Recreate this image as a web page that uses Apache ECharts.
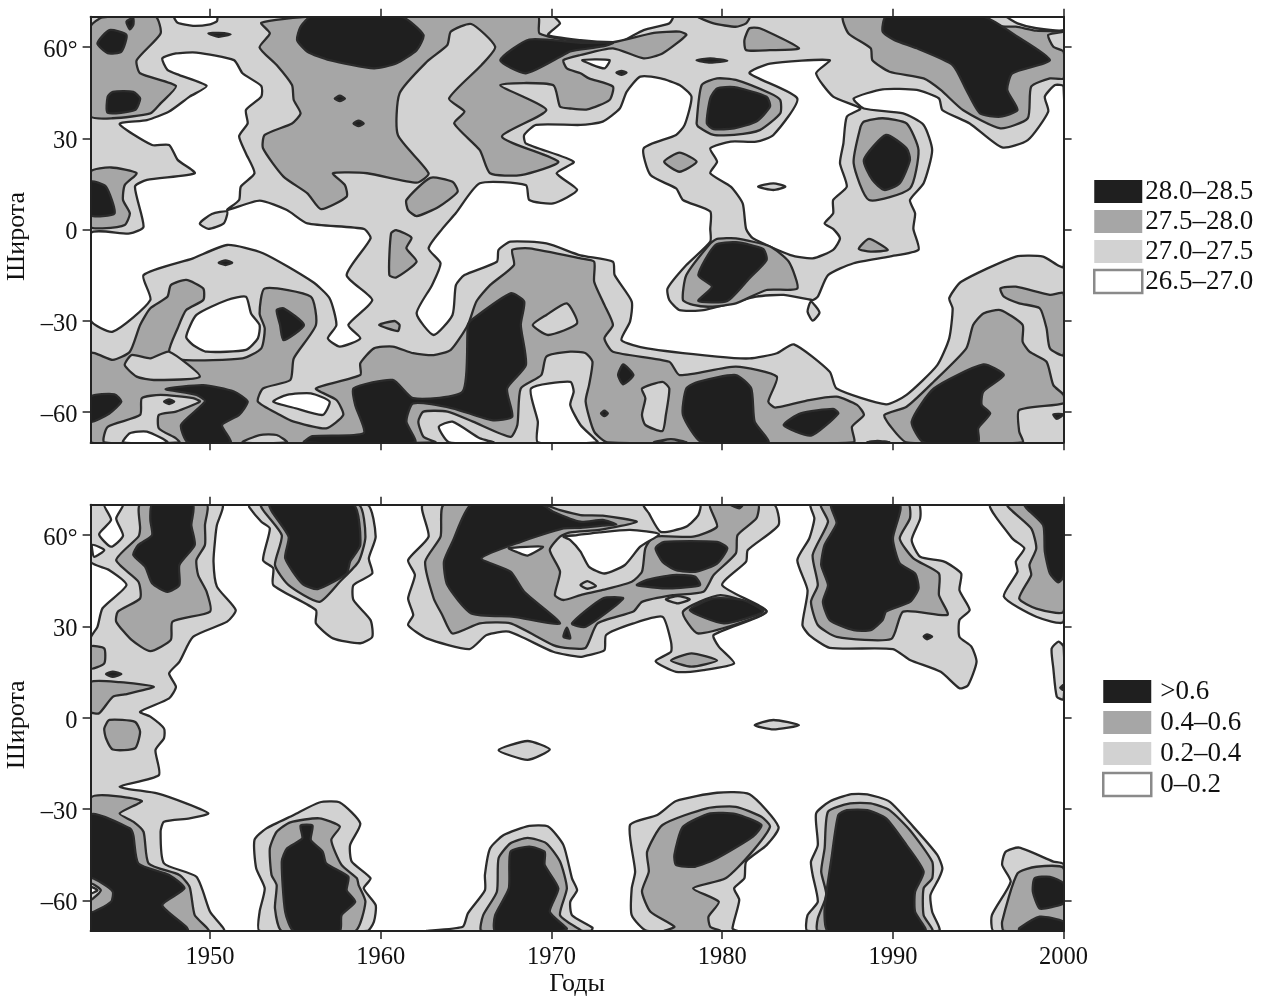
<!DOCTYPE html>
<html>
<head>
<meta charset="utf-8">
<script src="https://cdn.jsdelivr.net/npm/echarts@6/dist/echarts.min.js"></script>
<style>html,body{margin:0;padding:0;background:#fff}#graph{width:1264px;height:996px}</style>
</head>
<body>
<div id="graph"></div>
<script>
// contour rings, flat lists of year,latitude
var yearTicks = [1950, 1960, 1970, 1980, 1990, 2000];
var latTicks = [-60, -30, 0, 30, 60];
var latLabels = {'-60': '–60', '-30': '–30', '0': '0', '30': '30', '60': '60°'};
var tempLevels = ['28.0–28.5', '27.5–28.0', '27.0–27.5', '26.5–27.0'];
var sstLevels = ['>0.6', '0.4–0.6', '0.2–0.4', '0–0.2'];

// upper panel, painted in this order over a light background
var tempWhite = [
  [1947.9,70, 1948.1,68, 1949,67, 1950,67.5, 1950.4,68.5, 1950.4,70],
  [1947.2,56.3, 1948,57.9, 1949.2,58.2, 1951.4,55.7, 1951.9,51.4, 1953,47.2, 1953,43.7, 1952.1,39.3, 1952.2,34.9, 1951.7,30.7, 1952.1,25, 1952.6,18.5, 1951.8,14.1, 1951.7,9.7, 1951,6.4, 1952.9,9.5, 1954.5,6.4, 1955.7,2, 1959,0.2, 1959.4,-2.9, 1958,-15, 1959.5,-23.2, 1958.1,-31.4, 1958.8,-35.8, 1957.6,-38.5, 1956.9,-35.8, 1957.4,-31.4, 1957,-22.6, 1956,-17.2, 1953.1,-7.8, 1951,-5.1, 1949,-9.5, 1946.1,-15, 1946.5,-23.2, 1944.3,-33.6, 1943,-29.8, 1943,-1.3, 1945.3,-1.3, 1946.1,0.9, 1945.6,14.1, 1946.3,16.3, 1949.1,18.5, 1948.1,22.9, 1947.6,27.8, 1946.6,27.8, 1944.7,34.7, 1946.3,36, 1947.6,38.8, 1948.8,43.7, 1949.8,47.2, 1948.2,50.8, 1947.5,52.5],
  [1963.6,0.2, 1964.4,5.4, 1965.8,15.2, 1968.5,14.6, 1968.7,9.7, 1970.1,8.6, 1971.5,13, 1970.3,18.5, 1971.3,22.3, 1968.5,28.3, 1968.4,31.1, 1969.1,34.4, 1971.7,34.4, 1973,35.5, 1974,39.8, 1974.4,45.3, 1975.2,50.3, 1976.4,49.7, 1977.5,47.5, 1978.2,43.7, 1977.8,34.4, 1977.3,31.1, 1975.4,26.7, 1975.8,17.9, 1977.3,13.5, 1977.7,9.7, 1979.3,5.9, 1979.3,0.2, 1979.3,-4, 1977.9,-11.7, 1976.8,-19.4, 1976.9,-23.2, 1977.5,-26.5, 1978.9,-26.5, 1982,-22.1, 1983.6,-21.5, 1985.3,-23.2, 1985.6,-22.1, 1986.2,-15, 1987.7,-11.1, 1989.8,-8.9, 1991.5,-6.7, 1991.2,0.2, 1991.3,5.3, 1991,9.7, 1991.8,15.2, 1992.3,26.1, 1991.8,34.4, 1990.6,38.2, 1988.3,39.8, 1987.7,43.1, 1989.4,46.1, 1991.4,45.9, 1992.7,43.1, 1992.9,39.3, 1994.5,34.9, 1996.4,27, 1997.9,29.4, 1999.1,38.8, 1998.9,43.7, 1999.5,47.5, 2000,47, 2000,-12.2, 1998.8,-8.9, 1997.2,-8.9, 1994,-17.2, 1993.3,-22.6, 1993.5,-26, 1993.3,-35.8, 1992.6,-44.6, 1990.8,-54.4, 1989.6,-57.5, 1986.7,-52.3, 1986.3,-46.8, 1984.2,-37.8, 1983.2,-40.7, 1981.6,-42.4, 1979.7,-41.8, 1975.6,-39.1, 1974.1,-36.4, 1974.6,-30.3, 1974.7,-23.7, 1973.7,-15, 1973.6,-10.6, 1971.7,-8.5, 1969.7,-4.6, 1967.6,-4, 1966.9,-6.7, 1966.8,-10.6, 1964.9,-15, 1964.4,-18.3, 1964.2,-28.1, 1963.1,-34.7, 1962.1,-27.6, 1963,-18.3, 1963.5,-11.1, 1962.8,-6.2],
  [1981.4,0.2, 1981.2,8.6, 1980.5,14.1, 1979.3,18.5, 1979.7,22.3, 1979.3,26.7, 1980.5,28.9, 1982,28.9, 1983,31.1, 1984.4,43.1, 1981.6,51.4, 1982.8,54.6, 1986.3,55.7, 1985.5,51.4, 1986.5,43.7, 1988.1,39.8, 1987.3,37.1, 1987.1,28.3, 1986.9,21.8, 1987.3,14.1, 1986.5,9.7, 1986.5,5.3, 1986,2, 1986.5,0.2, 1986.9,-2.9, 1986.5,-6.7, 1985.3,-9.5, 1984,-8.4, 1981.8,-2.9],
  [1970.2,70, 1970.5,67.8, 1969.8,64, 1971.7,62.3, 1973.6,61.6, 1974.2,62.1, 1975.4,65.6, 1976.9,67.8, 1977.1,70],
  [1971.8,55.7, 1973.4,55.7, 1973.1,53],
  [1996.7,70, 1997.3,67.8, 1998.4,66.2, 2000,65.6, 2000,70]
];
var tempLightIsles = [
  [1949.4,2, 1949.9,0.2, 1950.8,2, 1951,5.9, 1950.1,5.1],
  [1985,-27, 1985.2,-23.7, 1985.7,-27.3, 1985.3,-30],
  [1982.1,14.1, 1983,15.2, 1983.7,14.1, 1983,13]
];
var tempMid = [
  [1943.7,69.8, 1946.8,70, 1947.1,64.5, 1945.7,55.7, 1945.9,51.4, 1948,47.2, 1947.1,41.5, 1946.5,38.2, 1944.3,36.6, 1943,37.3, 1943,66.7],
  [1943,19, 1944.2,20.4, 1945.7,18.5, 1945,14.6, 1944.9,9.7, 1945.3,5.3, 1945,1.5, 1943.7,0.4, 1943,0.9],
  [1953,68, 1955.9,70, 1969.2,70, 1969.3,64.5, 1971.7,61.8, 1973.6,61.6, 1976,64.7, 1977.5,65.1, 1977.9,64, 1976.5,57.9, 1975.4,56.3, 1973.6,59.6, 1971.7,57.4, 1970.7,55.7, 1970.9,53, 1971.7,51.4, 1972.2,49.7, 1973.6,47, 1973.4,42.6, 1972.1,39.5, 1971.1,39.8, 1970.5,40.4, 1970.1,47.5, 1967,47.5, 1969.7,39.3, 1967.1,30.5, 1970.4,22.3, 1968.2,17.9, 1966.4,18.5, 1965.8,26.1, 1964.3,34.9, 1964.9,38.8, 1964,43.1, 1965.9,54.1, 1966.7,60.1, 1965.3,67.6, 1964.1,65.1, 1963.9,60.7, 1962.7,55.2, 1961.1,44.8, 1961,31.1, 1962.8,18.5, 1962.1,15.4, 1959.2,18.5, 1957.2,18.5, 1957.9,14.6, 1958,10.8, 1956.5,6.7, 1955.7,11.9, 1954.3,17.4, 1953.1,26.7, 1953.2,31.1, 1954.8,34.9, 1955.3,38.2, 1954.9,42.6, 1954.8,47.5, 1953.9,54.1, 1952.9,59.9, 1953.5,64.5],
  [1961.5,9.7, 1962.9,17, 1964.2,15.7, 1964.5,12.4, 1963.4,7.5, 1962.1,4.4, 1961.6,6.4],
  [1978.6,70, 1979.5,67.8, 1980.8,66.7, 1981.4,67.8, 1981.6,70],
  [1981.3,62.3, 1981.6,66.2, 1982.2,66.2, 1984.5,59.6, 1982.8,59, 1981.4,59],
  [1978.5,34.9, 1978.8,47.5, 1979.7,49.7, 1980.8,49.2, 1982.8,44.8, 1983.4,42.6, 1983.4,38.2, 1982.2,32.7, 1980.7,31.1, 1979.5,31.1, 1978.6,33.8],
  [1976.6,22.3, 1977.5,25.3, 1978.5,22.3, 1977.5,19],
  [1988.1,33.7, 1988.3,35.5, 1989.4,36.6, 1990.8,34.9, 1991.5,26.1, 1991,13.5, 1988.6,9.7, 1987.7,21.8],
  [1987.1,70, 1987.4,64.5, 1988.7,59.6, 1988.8,55.7, 1989.8,51.9, 1991.8,49.7, 1992.8,45.9, 1994.1,39.3, 1996.3,33.3, 1997.9,36.6, 1998.1,47, 1999.2,49.7, 2000,49.7, 2000,58.5, 1999.4,60.1, 1999.1,64, 2000,65.1, 1998.4,65.4, 1997.2,66.7, 1996.3,66.9, 1995.3,70],
  [1943,-40.7, 1944.3,-42.9, 1945.3,-40.2, 1945.9,-31.4, 1946.5,-25.9, 1947.5,-22.1, 1947.7,-18.3, 1948.6,-16.6, 1949.6,-19.4, 1949.6,-23.2, 1948.6,-26.5, 1948.1,-32.5, 1947.6,-40.2, 1948.4,-42.9, 1951.9,-42.4, 1953,-39.1, 1953.2,-32.5, 1952.9,-27.6, 1953.2,-19.4, 1955.9,-22.1, 1956.2,-31.4, 1954.9,-42.4, 1954.7,-49.5, 1953.1,-52.3, 1952.8,-56.6, 1954.1,-61, 1954.9,-63.2, 1956.8,-65.4, 1957.8,-61, 1957.4,-56.1, 1956.2,-52.3, 1958.8,-47.9, 1958.8,-44, 1959.6,-39.1, 1960.7,-38.5, 1961.9,-40.7, 1963.1,-41.3, 1964.1,-39.6, 1965.1,-31.4, 1965.6,-23.7, 1966.4,-18.3, 1967.8,-11.7, 1967.7,-6.7, 1968.7,-6.2, 1971.7,-9.5, 1972.5,-10.6, 1972.5,-17.2, 1973.1,-24.8, 1973.6,-31.4, 1973.1,-35.8, 1973.6,-40.2, 1976.9,-43.5, 1977.5,-47.9, 1980.8,-45.1, 1983.2,-48.4, 1982.7,-56.6, 1983.1,-58.6, 1985.1,-56.1, 1986.7,-55, 1987.9,-57.7, 1988.3,-61, 1987.6,-64.9, 1987.7,-70, 1973.3,-70, 1972.5,-66.5, 1972,-56.6, 1972.2,-51.2, 1972.4,-43.5, 1972,-40.7, 1971.1,-40.2, 1969.7,-41.8, 1969.4,-47.9, 1968.2,-52.3, 1968,-64.3, 1967.6,-68.2, 1965.4,-63.2, 1963.9,-59.9, 1962.5,-59.9, 1962.2,-63.2, 1962.5,-68.2, 1963.2,-70, 1943,-70],
  [1960.6,-1.3, 1960.9,-0.2, 1961.8,-2.7, 1961.5,-6.2, 1962.1,-10.6, 1960.9,-15.8, 1960.5,-15],
  [1959.9,-31.4, 1960.8,-30.1, 1961.1,-31.4, 1961,-33.4],
  [1977.7,-23.2, 1977.9,-15, 1979.3,-4.6, 1979.7,-3.1, 1980.8,-2.9, 1982.8,-5.6, 1983.9,-10.6, 1984.4,-19.4, 1982.6,-19.9, 1980.8,-24.3, 1979.3,-25.4, 1978.3,-24.8],
  [1988,-6.4, 1988.6,-3.1, 1989.7,-6.7, 1988.7,-7.3],
  [1989.5,-61, 1990.8,-58.3, 1992.4,-50, 1994.3,-39.1, 1994.7,-31.4, 1995.3,-27.6, 1996.3,-26.5, 1997.6,-31.4, 1997.6,-36.9, 1998,-40.2, 1999,-43.5, 1999.4,-51.2, 2000,-54.4, 2000,-57.2, 1997.4,-59.4, 1997.4,-66.5, 1997.6,-70, 1990.8,-70, 1989.8,-64.3],
  [1996.3,-19.4, 1997.2,-18.8, 1999.2,-21.5, 2000,-21, 2000,-41.3, 1999.2,-39.1, 1999,-32.5, 1998.6,-25.9, 1997.4,-24.3, 1996.5,-22.1],
  [1988.5,-70, 1989.1,-69.5, 1989.8,-70]
];
var tempLightTop = [
  [1945,-44.6, 1945.4,-41.3, 1946.5,-42.4, 1947.6,-40.2, 1949.4,-48.4, 1946.7,-49.5, 1945.7,-48.4],
  [1943.8,-70, 1944,-64.9, 1945.9,-61, 1946,-55.5, 1947.1,-54.4, 1949,-55.5, 1949.4,-56.6, 1948,-59.9, 1947,-61, 1947,-65.4, 1948,-68.7, 1948.2,-70],
  [1951.9,-70, 1952.9,-67.6, 1953.9,-67.6, 1954.5,-70],
  [1968.9,-31.4, 1969.7,-28.1, 1970.9,-24.3, 1971.5,-30.9, 1969.8,-34.7],
  [1975.3,-52.3, 1976.5,-50.1, 1976.9,-52.3, 1976.7,-61, 1976.5,-66.3, 1975.5,-64.3, 1975.3,-61, 1975.5,-55.5],
  [1976,-70, 1977,-69, 1977.9,-70]
];
var tempWhiteTop = [
  [1944.9,-70, 1945.3,-67, 1946.3,-66.5, 1947.5,-70],
  [1953.7,-56.6, 1954.5,-54.4, 1955.9,-53.9, 1957,-56.6, 1956.6,-61, 1955,-58.8],
  [1964,-70, 1963.4,-64.9, 1964.2,-63.2, 1965.8,-68.7, 1966.6,-70],
  [1969.2,-70, 1969.2,-63.2, 1968.8,-52.3, 1971.1,-50.1, 1971.3,-53.3, 1971.1,-57.7, 1971.7,-64.3, 1972.5,-68.7, 1972.7,-70],
  [1948.6,-35.3, 1949.2,-28.1, 1951,-23.2, 1952.1,-22.1, 1952.4,-27.6, 1952.9,-31.4, 1952.8,-35.8, 1952.1,-39.6, 1949.8,-40.2, 1949,-38]
];
var tempDark = [
  [1943.4,61.2, 1944.1,65.6, 1945.1,64, 1944.8,58.5, 1944,58],
  [1944,43.7, 1944.3,45.3, 1945.5,45.3, 1945.9,43.1, 1945.6,39.3, 1944,38.4],
  [1945.1,68.4, 1945.5,69.5, 1945.5,67.3, 1945.3,65.8],
  [1949.9,64.5, 1950.5,64.7, 1951.2,64.2, 1950.5,63.4],
  [1943,15.7, 1943.9,14.1, 1944.4,5.3, 1943,4.8],
  [1955.9,70, 1961.2,70, 1962.5,64, 1962.1,59, 1960.9,54.6, 1959.6,53, 1957,55.7, 1955.7,58.5, 1955.1,62.3, 1955.3,66.7],
  [1957.3,43.1, 1957.6,44, 1957.9,43.1, 1957.6,42.2],
  [1958.4,34.9, 1958.7,35.8, 1959,34.9, 1958.7,34],
  [1967,55.7, 1968.7,62.5, 1971.7,61.4, 1973.6,61.4, 1973,60.2, 1971.1,58.6, 1970.7,57.4, 1968.5,51.4],
  [1978.5,55.7, 1979.3,56.3, 1980.3,55.5, 1979.3,54.9],
  [1973.8,51.6, 1974.1,52.2, 1974.4,51.6, 1974.1,50.9],
  [1979.1,34.9, 1979.3,43.1, 1979.7,46.4, 1980.7,46.8, 1982.6,43.7, 1982.8,40.4, 1982,35.5, 1980.7,33.3, 1979.5,33],
  [1988.3,22.9, 1989.6,31.1, 1990.8,26.7, 1991,22.9, 1990.4,15.2, 1989.5,13, 1988.8,16.3],
  [1989.6,70, 1995.3,70, 1997.3,63.4, 1999.2,55.7, 1997,51.4, 1996.7,45.9, 1997.3,39.3, 1996.3,37.1, 1995.1,38.2, 1994.3,45.9, 1993.5,54.1, 1991.4,59.6, 1990.1,62.3, 1989.4,65.1],
  [1958.4,-52.3, 1960.7,-49.5, 1961.9,-55.5, 1964.8,-53.3, 1965.1,-31.4, 1965.3,-29.8, 1967.6,-21, 1968.4,-23.7, 1968.2,-31.4, 1968.5,-44.6, 1967.4,-52.3, 1967.7,-61.6, 1966.5,-62.7, 1964.2,-58.8, 1961.9,-57.2, 1961.5,-63.2, 1962,-70, 1955.5,-70, 1956,-68, 1959,-67, 1958.5,-57.7],
  [1947.4,-52.5, 1949.6,-51.2, 1951.4,-53.3, 1952.2,-56.6, 1951.7,-61, 1950.7,-64.3, 1951.2,-70, 1948.7,-70, 1948.3,-64.3, 1949.7,-56.6, 1949.2,-54.4],
  [1943,-55, 1944.4,-54.2, 1944.8,-56.6, 1944.1,-60.5, 1943,-63.2],
  [1953.9,-26.5, 1954.3,-25.9, 1955.5,-31.4, 1954.3,-36.4, 1954.1,-31.4],
  [1947.3,-56.6, 1947.6,-55.9, 1947.9,-56.6, 1947.6,-57.4],
  [1950.5,-10.9, 1950.9,-10.2, 1951.3,-10.9, 1950.9,-11.7],
  [1973.9,-47.9, 1974.2,-44.4, 1974.8,-47.9, 1974.2,-50.9],
  [1972.9,-60.5, 1973.1,-59.6, 1973.3,-60.5, 1973.1,-61.4],
  [1977.9,-52.3, 1978.6,-50.1, 1980.8,-47.9, 1981.7,-52.3, 1981.9,-63.2, 1982.7,-70, 1978.8,-70, 1977.7,-61],
  [1983.6,-64.3, 1984.6,-60.5, 1986.5,-59, 1986.8,-60.5, 1985.2,-67.8],
  [1991.1,-63.2, 1992.4,-52.3, 1995.3,-44.4, 1996.5,-47.9, 1995.3,-53.3, 1995.2,-57.7, 1995.7,-60.5, 1995,-65.4, 1995,-70, 1991.8,-70],
  [1999.4,-60.8, 2000,-60.8, 1999.6,-62.3],
  [1978.6,-15, 1979.6,-5.1, 1980.8,-4.2, 1982.4,-6.4, 1982.6,-10, 1981.6,-16, 1980.3,-23.5, 1978.6,-23.5, 1979.4,-18.8]
];

// lower panel, painted in this order over a white background
var sstLight = [
  [1943,70, 1950.7,70, 1950.4,63.3, 1950.3,58.9, 1950.2,51.3, 1950.4,43.1, 1951.5,35.4, 1951,31.6, 1949,26.6, 1948.2,18.4, 1947.6,14.6, 1948,10.2, 1947.6,6.4, 1945.9,2, 1946.5,0.4, 1947.3,-3.5, 1947.3,-6.7, 1946.8,-10.6, 1947,-18.8, 1944.7,-22.6, 1946.9,-24.8, 1948.6,-28.1, 1949.9,-31.4, 1948.8,-33, 1947.3,-34.1, 1947.1,-37.4, 1947.3,-47.8, 1949.2,-52.2, 1950,-63.7, 1950.8,-70, 1943,-70, 1943,26.1, 1943.4,29.9, 1943.7,36, 1945.1,43.6, 1944.1,48.5, 1943,51.3],
  [1952.3,70, 1952.3,69.1, 1953,64.4, 1953.5,62.2, 1953.1,51.8, 1953.7,49.1, 1953.7,43.6, 1956.2,35.4, 1956.2,31, 1957.2,26.1, 1958.8,24.5, 1959.5,26.6, 1959.4,32.1, 1958.4,38.7, 1958.4,43.6, 1959.5,47.4, 1959.3,52.4, 1959.7,59.5, 1959.2,70],
  [1962.5,70, 1962.8,59.5, 1961.6,51.8, 1962,46.9, 1961.6,39.2, 1961.9,33.8, 1961.6,30.5, 1962.7,26.1, 1965.2,22.6, 1966.2,27.2, 1967.5,28.3, 1970.1,21.7, 1971.7,20, 1972.1,20.5, 1973.1,22.2, 1973.2,27.2, 1974.8,31, 1976.5,33.2, 1977,25, 1977,21.7, 1976.1,18.6, 1977.3,15.1, 1978.9,15.7, 1980.7,17.9, 1979.8,23.4, 1979.5,27.2, 1982.6,34.9, 1980,43.6, 1981.4,51.3, 1981.5,55.1, 1983.3,63.3, 1983,70],
  [1985.2,70, 1985.4,65.5, 1985.1,58.9, 1984.4,51.8, 1985,41.9, 1984.7,30.5, 1985.1,27.2, 1986.3,23, 1990,22.6, 1991,19, 1992.8,15.1, 1993.9,9.7, 1994.4,10.7, 1994.9,18.4, 1994.6,23.4, 1993.9,26.6, 1993.9,32.1, 1994.5,35.4, 1993.9,41.9, 1994,47.4, 1993,51.3, 1991.6,52.9, 1991.1,58.4, 1991.6,65.5, 1991.5,70],
  [1995.7,70, 1997,58.9, 1997.7,55.7, 1997.2,51.3, 1997.3,48, 1996.5,39.8, 1998.4,33.2, 2000,31.6, 2000,70],
  [1999.3,22.8, 1999.7,25, 2000,23.4, 2000,6.1, 1999.6,7, 1999.4,16.2],
  [1981.9,-2.4, 1983,-0.7, 1984.5,-2.4, 1983,-3.8],
  [1966.9,-10.6, 1968.6,-7.6, 1969.9,-10.4, 1968.6,-13.8],
  [1952.9,-70, 1952.9,-63.7, 1953.2,-56, 1952.7,-49.4, 1952.6,-40.1, 1953.3,-36.3, 1954.9,-31.9, 1956.4,-27.8, 1957.6,-27.8, 1958.8,-34.7, 1958.2,-41.8, 1958.3,-47.2, 1959.4,-52.7, 1959,-56, 1959.7,-61.5, 1959.6,-66.9, 1959.2,-70],
  [1962.7,-70, 1964.8,-68.6, 1965.1,-64.2, 1966.1,-56.6, 1966.1,-51.6, 1966.4,-42.9, 1967.2,-38.5, 1968.7,-35.5, 1969.8,-35.7, 1970.7,-41.8, 1971.2,-52.7, 1971.5,-56.6, 1971.1,-60.4, 1971.2,-64.8, 1972.4,-68.9, 1972.3,-70],
  [1975.6,-70, 1974.7,-64.8, 1974.7,-56, 1974.9,-50.5, 1974.6,-35.2, 1976.2,-31.9, 1977.3,-27.3, 1979.7,-24.6, 1981.6,-25.1, 1983.3,-35.8, 1982.6,-41.8, 1981.4,-47.2, 1981.3,-52.7, 1980.7,-56, 1981,-59.8, 1980.6,-69.2, 1980.9,-70],
  [1985,-70, 1985,-64.8, 1985.6,-60.4, 1985.3,-51.6, 1985.2,-47.2, 1985.6,-41.8, 1985.5,-31.4, 1986.3,-27.5, 1987.5,-25.1, 1988.5,-25.1, 1989.8,-27.5, 1991.2,-35.8, 1992.6,-45, 1992.9,-49.4, 1992.7,-52.7, 1992.2,-58.2, 1992.3,-63.7, 1992.7,-70],
  [1995.9,-70, 1995.8,-64.8, 1996.9,-53.8, 1996.4,-48.3, 1996.6,-44, 1997.4,-42.6, 1999.4,-47.2, 2000,-48.1, 2000,-70]
];
var sstWhite = [
  [1943.8,70, 1944.2,65, 1943.5,60.3, 1944.2,56.2, 1944.9,59.8, 1944.5,65.5, 1944.9,70],
  [1943.1,56.8, 1943.8,55.1, 1943.2,52.9]
];
var sstMid = [
  [1945.9,70, 1949.8,70, 1949.7,63.3, 1949.7,56.8, 1949.2,51.8, 1949.3,46.9, 1949.8,41.4, 1950,34.9, 1947.8,31.6, 1947.7,25.6, 1946.5,21.9, 1945.4,25.6, 1944.5,31.6, 1944.6,34.9, 1945.9,39.2, 1945.8,44.7, 1944.5,51.8, 1945.8,59.5, 1945.9,62.2],
  [1943,23.4, 1943.8,22.8, 1943.8,17.9, 1943,16.2],
  [1943,11.7, 1944.7,11.7, 1946.7,10.2, 1945,7.7, 1944.3,6.9, 1943.5,1.5, 1943,2],
  [1943.8,-3.5, 1944.1,-0.7, 1945.6,-1.3, 1945.9,-4.6, 1945.6,-10, 1944.3,-10.4, 1943.9,-6.7],
  [1943,-26.4, 1946,-27.3, 1944.7,-31.4, 1945.5,-34.1, 1946.1,-37.4, 1946.4,-47.8, 1948.2,-51.6, 1948.8,-55.5, 1949.1,-64.8, 1949.9,-70, 1943,-70],
  [1953,70, 1954.2,60, 1953.8,50.2, 1954.6,43.6, 1956.4,38.1, 1957.6,44.7, 1958.7,51.3, 1959.1,59.5, 1958.7,70],
  [1963.7,70, 1969.5,70, 1970.5,68.2, 1971.7,66.6, 1973,66.4, 1975,64.4, 1972.8,61.7, 1971.1,60.9, 1970.5,59.5, 1969.9,55.1, 1970.5,48, 1970.2,40.3, 1970.7,38.7, 1971.7,40.3, 1973,42, 1974.7,44.7, 1975.3,48, 1975.5,55.7, 1976,59.5, 1978.3,59.5, 1979.7,62.8, 1979.3,70, 1982.1,70, 1982,65.5, 1980.9,60, 1980.8,54, 1979.5,46.9, 1978.9,41.4, 1977.1,40.3, 1975.3,38.1, 1974.8,34.9, 1972.7,31, 1972,23, 1971.1,22.8, 1970.1,23.9, 1967.6,31, 1965.8,31, 1964.2,27.7, 1963.6,33.8, 1963.1,39.2, 1962.6,51.3, 1963.5,59.5],
  [1977.7,34.9, 1979.9,40.3, 1982.6,34.9, 1978.6,27.7],
  [1977,18.8, 1978.2,21.2, 1979.7,18.8, 1978.2,16.8],
  [1985.8,70, 1986.2,64.4, 1985.3,53.5, 1985.6,43.6, 1985.2,38.1, 1985.6,30.5, 1986.7,26.6, 1989.9,25.9, 1990.6,34.9, 1993.2,33.8, 1992.7,40.3, 1992.7,47.4, 1991.2,52.4, 1990.4,58.9, 1991,65.5, 1990.9,70],
  [1996.7,70, 1998.1,62.2, 1998.4,55.7, 1998,50.2, 1998.1,46.9, 1997.4,39.2, 1998.4,35.9, 2000,34.9, 2000,70],
  [1954.2,-70, 1953.8,-62.6, 1953.9,-54.9, 1953.6,-51.6, 1953.5,-42.9, 1953.9,-37.4, 1954.7,-34.3, 1956.4,-33, 1957.6,-35.7, 1957.1,-40.1, 1957.7,-48.3, 1958.6,-52.7, 1958.7,-54.9, 1959.1,-60.4, 1958.5,-70],
  [1965.9,-70, 1966,-64.8, 1966.8,-57.1, 1966.9,-46.1, 1967.6,-41.2, 1968.6,-39.4, 1969.7,-41.2, 1970.5,-47.2, 1970.9,-56, 1970.5,-64.8, 1971.7,-69.7, 1971.8,-70],
  [1976.6,-70, 1977.2,-68.6, 1975.8,-63.7, 1975.3,-57, 1975.7,-50.5, 1975.6,-44, 1976.5,-35.2, 1979.1,-29.7, 1980.8,-29.2, 1982.3,-32.5, 1982.8,-35.8, 1981.6,-45, 1980.2,-52.7, 1978.3,-56, 1979.8,-60.4, 1979.2,-65.3, 1979.3,-68.6, 1979.9,-70],
  [1985.6,-70, 1985.6,-65.9, 1986.1,-58.2, 1985.8,-50.5, 1986,-42.9, 1986.2,-30.8, 1987.5,-28.1, 1988.7,-28.1, 1989.8,-30.3, 1991,-36.9, 1992.3,-47.2, 1992.3,-52.7, 1991.8,-56, 1991.8,-64.8, 1992.3,-70],
  [1996.5,-70, 1996.4,-66.9, 1997.3,-51.1, 1998.4,-48.9, 2000,-49.4, 2000,-70]
];
var sstLightTop = [
  [1976.7,38.9, 1977.4,40, 1978.1,38.9, 1977.4,37.6],
  [1971.7,43.6, 1972.1,44.9, 1972.6,43.3, 1972.1,42.4]
];
var sstWhiteTop = [
  [1975.4,70, 1975.7,67.2, 1976.4,61.1, 1977.9,62.8, 1978.6,66.6, 1978.7,70],
  [1970.7,59.5, 1971.1,58.4, 1971.7,54.6, 1972.2,49.6, 1973.1,47.4, 1974.3,50.2, 1975.2,56.2, 1976.3,60.3, 1974.6,61.7, 1972.8,60.9, 1971.5,60],
  [1967.5,55.7, 1969.5,56.2, 1968.6,53.3, 1968,54.4]
];
var sstDark = [
  [1946.6,70, 1949,70, 1948.9,63.3, 1949.1,56.8, 1948.2,50.2, 1948.2,43.6, 1947.5,41.4, 1946.6,44.2, 1946.2,49.6, 1945.5,53.5, 1945.8,56.8, 1946.6,60, 1946.5,65],
  [1943.9,14.4, 1944.3,15.2, 1944.8,14.4, 1944.3,13.5],
  [1943,-31.9, 1945.3,-36.3, 1945.5,-38.5, 1945.8,-47.8, 1947.6,-51.6, 1948.5,-56, 1947.2,-61.5, 1948.6,-68.6, 1948.7,-70, 1943,-70],
  [1953.5,70, 1954.6,59.5, 1954.4,52.4, 1955.4,44.1, 1956.3,42.3, 1958,47.4, 1958.2,51.3, 1958.8,56.8, 1958.4,70],
  [1965.3,70, 1969.4,70, 1970.1,67.7, 1971.7,64.4, 1973,65, 1973.8,63.5, 1973,63.1, 1971.7,62.4, 1970.7,62.2, 1968.2,57.8, 1965.9,52.4, 1967.6,48, 1968.4,41.4, 1970.5,31, 1967.8,33.2, 1965.3,34.3, 1963.9,43.6, 1963.7,51.3, 1964.2,57.8],
  [1970.7,26.6, 1970.9,29.6, 1971.1,26.1],
  [1976.1,55.7, 1976.6,57.8, 1979.7,57.8, 1980.3,55.7, 1979.7,50.7, 1978.5,48, 1977.3,48.5, 1976.5,51.3],
  [1975,43.6, 1975.6,45.3, 1977.1,46.9, 1978.4,46.4, 1978.7,43.6, 1976.9,42.5],
  [1971.2,31, 1973,39.2, 1974.2,39.2, 1972,29.9],
  [1978.1,35.4, 1979.5,39.2, 1981.2,38.7, 1982.4,34.9, 1980.1,31],
  [1980.5,70, 1981,68.8, 1981.2,70],
  [1986.4,70, 1986.7,63.9, 1986,56.8, 1985.8,50.2, 1986.2,43.6, 1985.9,38.1, 1986.3,32.1, 1987.7,28.8, 1988.7,28.8, 1989.4,32.1, 1989.6,34.9, 1991,38.1, 1991.5,42.5, 1991.3,47.4, 1990.4,50.7, 1990,58.9, 1990.4,70],
  [1991.8,26.7, 1992,27.4, 1992.3,26.7, 1992,25.8],
  [1997.7,70, 1998.8,63.3, 1998.9,54.6, 1999.2,47.4, 1999.7,44.5, 2000,46.4, 2000,70],
  [1999.8,9.9, 2000,10.8, 2000,9.1],
  [1954.9,-70, 1954.4,-63.7, 1954.2,-47.2, 1954.5,-42.9, 1955.4,-39.6, 1955.3,-35.4, 1956,-35.4, 1955.9,-40.1, 1956.6,-44, 1956.8,-47.8, 1958.1,-52.2, 1958,-56.6, 1958.5,-60.4, 1957.7,-64.8, 1957.6,-70],
  [1966.7,-70, 1966.7,-64.8, 1967.5,-56, 1967.6,-44, 1968.7,-42.3, 1969.6,-44, 1969.6,-48.3, 1970.4,-56, 1969.9,-63.7, 1970.9,-69.2, 1970.6,-70],
  [1977.7,-35.8, 1979.3,-31.4, 1980.8,-31.6, 1982.3,-35.2, 1981.8,-39, 1979.7,-46.1, 1978.4,-48.9, 1977.3,-48.3, 1977.2,-45],
  [1986.2,-70, 1986,-62.6, 1986.4,-46.2, 1986.8,-31.9, 1987.3,-30.3, 1988.5,-30.3, 1989.6,-33, 1990.8,-41.8, 1991.8,-50.5, 1991.3,-57.1, 1991.3,-63.7, 1991.9,-70],
  [1998.3,-52.7, 1999.2,-52.2, 2000,-54.4, 2000,-60.9, 1999.4,-62, 1998.6,-62.6, 1998.2,-57.1],
  [1997.4,-69.1, 1998.6,-65.3, 2000,-66.9, 2000,-70, 1997.4,-70]
];
var spotMid = [[1943,-52.7, 1943.7,-54.4, 1944.3,-57.1, 1944.2,-60.4, 1943,-63.7]];
var spotLight = [[1943,-54.4, 1943.6,-56.6, 1943,-59.8]];
var spotWhite = [[1943,-55.5, 1943.4,-56.6, 1943,-57.7]];

var dom = document.getElementById('graph');
var myChart = echarts.init(dom);

var DARK = '#1f1f1f', MID = '#a6a6a6', LIGHT = '#d2d2d2', WHITE = '#ffffff', LINE = '#2b2b2b';
var serif = 'Liberation Serif';

function layer(name, rings, fill, panel) {
  return {
    type: 'custom',
    name: name,
    xAxisIndex: panel * 2,
    yAxisIndex: panel * 2,
    silent: true,
    animation: false,
    clip: true,
    itemStyle: {color: fill},
    encode: {x: 0, y: 1},
    data: rings.map(function (r) { return [r[0], r[1]]; }),
    renderItem: function (params, api) {
      var r = rings[params.dataIndex], pts = [];
      for (var i = 0; i < r.length; i += 2) pts.push(api.coord([r[i], r[i + 1]]));
      return {
        type: 'polygon',
        shape: {points: pts, smooth: 0.2},
        style: {fill: fill, stroke: LINE, lineWidth: 2.3, lineJoin: 'round'}
      };
    }
  };
}

function xAxis(grid, pos, labels, name) {
  return {
    type: 'value', gridIndex: grid, position: pos, min: 1943, max: 2000, z: 10,
    splitLine: {show: false},
    axisLine: {onZero: false, lineStyle: {color: '#222', width: 2}},
    axisTick: {length: 8, lineStyle: {color: '#222', width: 1.5}, customValues: yearTicks},
    axisLabel: {show: labels, customValues: yearTicks, margin: 14, color: '#111',
      fontFamily: serif, fontSize: 24.5, formatter: function (v) { return String(v); }},
    name: name || '', nameLocation: 'middle', nameGap: 40,
    nameTextStyle: {color: '#111', fontFamily: serif, fontSize: 26}
  };
}

function yAxis(grid, pos, labels) {
  return {
    type: 'value', gridIndex: grid, position: pos, min: -70, max: 70, z: 10,
    splitLine: {show: false},
    axisLine: {onZero: false, lineStyle: {color: '#222', width: 2}},
    axisTick: {length: 8, lineStyle: {color: '#222', width: 1.5}, customValues: latTicks},
    axisLabel: {show: labels, customValues: latTicks, margin: 13, color: '#111',
      verticalAlign: 'top', lineHeight: 7,
      fontFamily: serif, fontSize: 24.5, formatter: function (v) { return latLabels[v]; }},
    name: labels ? 'Широта' : '', nameLocation: 'middle', nameRotate: 90, nameGap: 56,
    nameTextStyle: {color: '#111', fontFamily: serif, fontSize: 26, padding: [0, 14, 0, 0]}
  };
}

function legend(levels, left, top, gap, textPad) {
  var fills = [DARK, MID, LIGHT, WHITE];
  return {
    orient: 'vertical', left: left, top: top, itemWidth: 48, itemHeight: 23, itemGap: gap,
    padding: 0, selectedMode: false, icon: 'rect',
    textStyle: {color: '#111', fontFamily: serif, fontSize: 27, lineHeight: 23, padding: [0, 0, 0, textPad]},
    data: levels.map(function (n, i) {
      return {name: n, itemStyle: {color: fills[i], borderColor: i == 3 ? '#8a8a8a' : 'transparent', borderWidth: i == 3 ? 2.5 : 0}};
    })
  };
}

var option = {
  animation: false,
  backgroundColor: '#fff',
  grid: [
    {left: 90.6, top: 16.7, width: 973, height: 425.6, show: true, backgroundColor: LIGHT, borderWidth: 0, outerBoundsMode: 'none'},
    {left: 90.6, top: 504.7, width: 973, height: 426.3, show: true, backgroundColor: WHITE, borderWidth: 0, outerBoundsMode: 'none'}
  ],
  xAxis: [xAxis(0, 'bottom', false), xAxis(0, 'top', false), xAxis(1, 'bottom', true, 'Годы'), xAxis(1, 'top', false)],
  yAxis: [yAxis(0, 'left', true), yAxis(0, 'right', false), yAxis(1, 'left', true), yAxis(1, 'right', false)],
  legend: [legend(tempLevels, 1093, 178, 3, -2), legend(sstLevels, 1102, 678, 4, 4)],
  series: [
    layer(tempLevels[3], tempWhite, WHITE, 0),
    layer(tempLevels[2], tempLightIsles, LIGHT, 0),
    layer(tempLevels[1], tempMid, MID, 0),
    layer(tempLevels[2], tempLightTop, LIGHT, 0),
    layer(tempLevels[3], tempWhiteTop, WHITE, 0),
    layer(tempLevels[0], tempDark, DARK, 0),
    layer(sstLevels[2], sstLight, LIGHT, 1),
    layer(sstLevels[3], sstWhite, WHITE, 1),
    layer(sstLevels[1], sstMid, MID, 1),
    layer(sstLevels[2], sstLightTop, LIGHT, 1),
    layer(sstLevels[3], sstWhiteTop, WHITE, 1),
    layer(sstLevels[0], sstDark, DARK, 1),
    layer(sstLevels[1], spotMid, MID, 1),
    layer(sstLevels[2], spotLight, LIGHT, 1),
    layer(sstLevels[3], spotWhite, WHITE, 1)
  ]
};
myChart.setOption(option, true);
</script>
</body>
</html>
